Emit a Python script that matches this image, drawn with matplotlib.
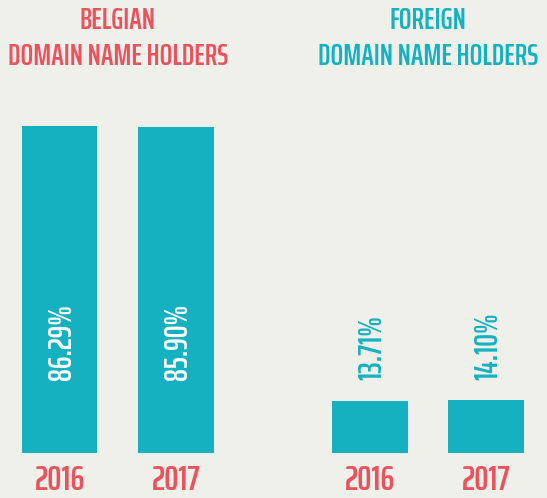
import matplotlib
matplotlib.use("Agg")
import matplotlib.pyplot as plt

# data
groups = ["BELGIAN\nDOMAIN NAME HOLDERS", "FOREIGN\nDOMAIN NAME HOLDERS"]
years = ["2016", "2017"]
belgian = [86.29, 85.90]
foreign = [13.71, 14.10]

RED = "#e8535d"
TEAL = "#16b1c1"
BG = "#f0f0eb"
FONT = "Saira ExtraCondensed"

fig = plt.figure(figsize=(5.47, 4.98), dpi=100, facecolor=BG)
ax = fig.add_axes([0, 0.0904, 1, 0.761])
ax.set_facecolor(BG)
ax.axis('off')

gap = 1.665
pos = [0, 1, gap + 1, gap + 2]
vals = belgian + foreign
ax.bar(pos, vals, width=0.652, color=TEAL)
ax.set_xlim(-0.511, 4.185)
ax.set_ylim(0, 100)

for i, (x, v) in enumerate(zip(pos, vals)):
    col = "white" if v > 50 else TEAL
    ax.text(x + 0.02, 19.3, f"{v:.2f}%", rotation=90, ha='center', va='bottom',
            color=col, fontsize=23, family=FONT, fontweight='semibold')
    ax.text(x, -2.8, years[i % 2], ha='center', va='top', color=RED,
            fontsize=25.5, family=FONT, fontweight='semibold')

for g, (x, col) in enumerate(zip([0.5, gap + 1.5], [RED, TEAL])):
    ax.text(x, 109.4, groups[g], ha='center', va='center', color=col,
            fontsize=21.6, family=FONT, fontweight='semibold', linespacing=1.3,
            clip_on=False)

fig.savefig("out.png", facecolor=BG)
